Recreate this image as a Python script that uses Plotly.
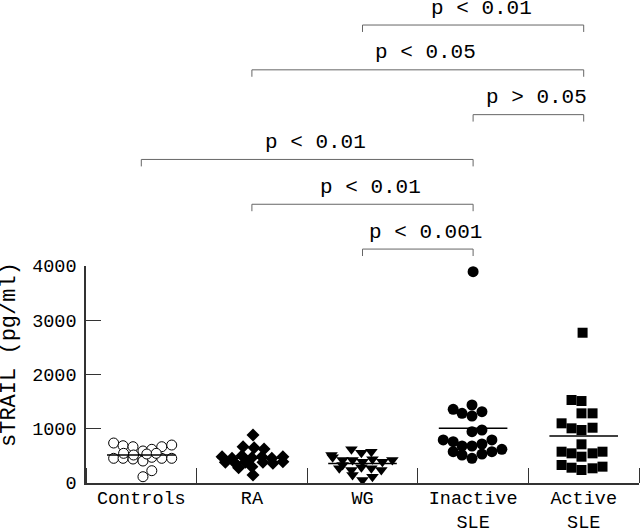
import numpy as np
import plotly.graph_objects as go

# sTRAIL serum levels (pg/ml) per group
CATEGORIES = ["Controls", "RA", "WG", "Inactive<br>SLE", "Active<br>SLE"]

controls = [737, 687, 669, 590, 621, 669, 700,
            455, 455, 442, 405, 474, 455, 455,
            547, 516, 534, 547, 116, 227]
controls_dx = [-0.25, -0.165, -0.075, 0.015, 0.095, 0.185, 0.275,
               -0.25, -0.165, -0.075, 0.015, 0.095, 0.185, 0.275,
               -0.16, -0.07, 0.05, 0.135, 0.015, 0.095]

ra = [885, 669, 651, 627, 485, 455, 504, 467, 485, 455,
      485, 381, 363, 381, 301, 381, 363, 393, 147, 282]
ra_dx = [0.01, -0.08, 0.02, 0.11, -0.27, -0.18, -0.09, 0.0, 0.09, 0.18,
         0.28, -0.24, -0.15, -0.06, 0.0, 0.10, 0.19, 0.28, 0.01, -0.12]

wg = [621, 559, 577, 474, 424, 424, 393, 437, 393, 424,
      516, 271, 240, 289, 271, 240, 147, 55, 116, 332]
wg_dx = [-0.10, -0.01, 0.08, -0.27, -0.18, -0.09, 0.0, 0.09, 0.18, 0.27,
         -0.28, -0.21, -0.10, -0.01, 0.08, 0.17, -0.09, 0.0, 0.09, -0.18]

inactive_sle = [3895, 1358, 1284, 1438, 1235, 1314, 946, 977, 793, 761,
                682, 682, 719, 793, 577, 516, 455, 534, 577, 621]
inactive_dx = [0.0, -0.18, -0.10, -0.01, -0.01, 0.08, -0.01, 0.08, -0.27, -0.18,
               -0.10, -0.01, 0.08, 0.17, -0.18, -0.10, -0.01, 0.08, 0.17, 0.26]

active_sle = [2770, 1530, 1511, 1284, 1284, 1100, 1008, 977, 1019, 713,
              577, 547, 485, 547, 577, 332, 282, 240, 271, 301]
active_dx = [-0.01, -0.11, -0.02, -0.02, 0.08, -0.20, -0.11, -0.02, 0.08, -0.02,
             -0.20, -0.11, -0.02, 0.08, 0.17, -0.20, -0.11, -0.02, 0.08, 0.17]

# (group a, group b, label), bottom bracket first
COMPARISONS = [
    (2, 3, "p < 0.001"),
    (1, 3, "p < 0.01"),
    (0, 3, "p < 0.01"),
    (3, 4, "p > 0.05"),
    (1, 4, "p < 0.05"),
    (2, 4, "p < 0.01"),
]

FONT = "Liberation Mono, Courier New, monospace"
AXIS_COLOR = "#333333"
BRACKET_COLOR = "#666666"

groups = [
    (controls, controls_dx, dict(symbol="circle", size=10, color="white",
                                 line=dict(color="black", width=1))),
    (ra, ra_dx, dict(symbol="diamond", size=10, color="black")),
    (wg, wg_dx, dict(symbol="triangle-down", size=11, color="black")),
    (inactive_sle, inactive_dx, dict(symbol="circle", size=11, color="black")),
    (active_sle, active_dx, dict(symbol="square", size=10, color="black")),
]

fig = go.Figure()

for i, (vals, dx, marker) in enumerate(groups):
    fig.add_trace(go.Scatter(
        x=[i + d for d in dx], y=vals, mode="markers",
        marker=marker, showlegend=False,
        hovertemplate="%{y} pg/ml<extra></extra>",
    ))

# mean bars
mx, my = [], []
for i, (vals, _, _) in enumerate(groups):
    m = float(np.mean(vals))
    mx += [i - 0.31, i + 0.31, None]
    my += [m, m, None]
fig.add_trace(go.Scatter(x=mx, y=my, mode="lines",
                         line=dict(color="black", width=1.5),
                         showlegend=False, hoverinfo="skip"))

# significance brackets above the plot (paper y > 1)
base, step, drop = 1.078, 0.2065, 0.032
for k, (a, b, label) in enumerate(COMPARISONS):
    y = base + step * k
    fig.add_shape(type="path", xref="x", yref="paper",
                  path=f"M {a},{y - drop} L {a},{y} L {b},{y} L {b},{y - drop}",
                  line=dict(color=BRACKET_COLOR, width=1))
    fig.add_annotation(x=(a + b) / 2, y=y, xref="x", yref="paper",
                       text=label, showarrow=False, xshift=8, yshift=17,
                       yanchor="middle",
                       font=dict(family=FONT, size=21, color="black"))

fig.add_annotation(x=-0.1374, y=0.59, xref="paper", yref="paper",
                   text="sTRAIL (pg/ml)", showarrow=False, textangle=-90,
                   xanchor="center", yanchor="middle",
                   font=dict(family=FONT, size=22, color="black"))

fig.update_layout(
    width=640,
    height=529,
    margin=dict(l=86, r=1, t=266, b=46),
    plot_bgcolor="white",
    paper_bgcolor="white",
    font=dict(family=FONT, color="black"),
)

fig.update_xaxes(
    range=[-0.5, 4.5],
    tickmode="array",
    tickvals=list(range(len(CATEGORIES))),
    ticktext=CATEGORIES,
    ticks="",
    ticklabelstandoff=-3,
    tickfont=dict(family=FONT, size=18.5, color="black"),
    showline=True, linecolor=AXIS_COLOR, linewidth=1.5,
    showgrid=False, zeroline=False, automargin=False,
    minor=dict(tickmode="array", tickvals=[i - 0.5 for i in range(6)],
               ticks="inside", ticklen=15, tickcolor=AXIS_COLOR, tickwidth=1.3,
               showgrid=False),
)
fig.update_yaxes(
    range=[0, 4000],
    tickmode="array",
    tickvals=[0, 1000, 2000, 3000, 4000],
    ticks="inside", ticklen=15, tickcolor=AXIS_COLOR, tickwidth=1.3,
    ticklabelstandoff=4,
    tickfont=dict(family=FONT, size=18.5, color="black"),
    showline=True, linecolor=AXIS_COLOR, linewidth=1.5,
    showgrid=False, zeroline=False, automargin=False,
)

# drop the default 8px page margin so the 640x529 figure fills the window
fig.write_html("out.html", config={"displayModeBar": False},
               post_script="document.body.style.margin = '0';")
